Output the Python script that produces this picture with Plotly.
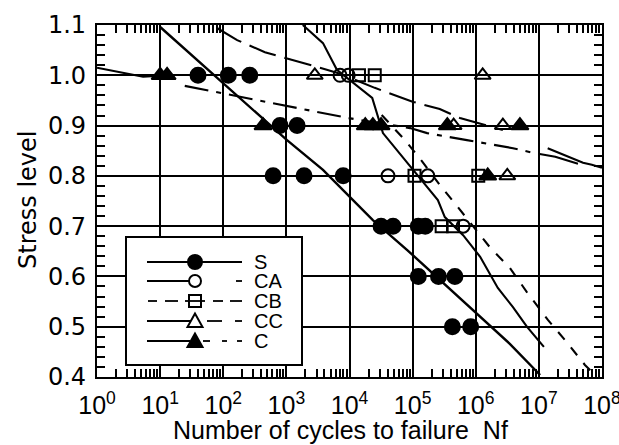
import plotly.graph_objects as go
import numpy as np

# ---------------- data (log10 of cycles, stress level) ----------------
S_logN   = [1.60, 2.08, 2.42, 2.90, 3.17, 2.79, 3.28, 3.90, 4.50, 4.69, 5.09, 5.20, 5.09, 5.41, 5.67, 5.63, 5.92]
S_stress = [1.0, 1.0, 1.0, 0.9, 0.9, 0.8, 0.8, 0.8, 0.7, 0.7, 0.7, 0.7, 0.6, 0.6, 0.6, 0.5, 0.5]

CA_logN   = [3.85, 3.98, 4.61, 5.24, 5.80]
CA_stress = [1.0, 1.0, 0.8, 0.8, 0.7]

CB_logN   = [4.15, 4.40, 5.03, 6.04, 5.46, 5.64]
CB_stress = [1.0, 1.0, 0.8, 0.8, 0.7, 0.7]

CC_logN   = [3.45, 6.11, 5.65, 6.43, 6.50]
CC_stress = [1.0, 1.0, 0.9, 0.9, 0.8]

C_logN   = [1.00, 1.11, 2.63, 4.25, 4.37, 4.50, 5.55, 6.70, 6.19]
C_stress = [1.0, 1.0, 0.9, 0.9, 0.9, 0.9, 0.9, 0.9, 0.8]

# curves (log10 N, stress)
S_curve_logN = [1.00, 2.00, 3.01, 3.58, 4.01, 4.37, 4.91, 5.47, 6.07, 6.54, 7.02]
S_curve_S    = [1.096, 0.985, 0.871, 0.812, 0.758, 0.712, 0.653, 0.589, 0.521, 0.466, 0.404]

CA_curve_logN = [3.26, 3.58, 3.80, 4.36, 4.53, 4.75, 4.99, 5.40, 5.51, 5.80, 6.07, 6.35, 6.59, 6.81, 7.08]
CA_curve_S    = [1.10, 1.064, 1.011, 0.955, 0.885, 0.851, 0.816, 0.752, 0.718, 0.682, 0.639, 0.577, 0.539, 0.500, 0.460]

CB_curve_logN = [4.51, 4.88, 5.13, 5.43, 5.69, 6.23, 6.54, 6.81, 7.14, 7.41, 7.73, 7.92]
CB_curve_S    = [0.921, 0.871, 0.832, 0.782, 0.742, 0.657, 0.617, 0.569, 0.514, 0.474, 0.424, 0.400]

CC_curve_logN = [1.90, 2.22, 2.66, 3.01, 3.64, 3.85, 4.40, 5.01, 5.43, 5.75, 6.43]
CC_curve_S    = [1.094, 1.070, 1.046, 1.034, 1.011, 1.003, 0.975, 0.947, 0.933, 0.915, 0.891]

C_left_logN = [0.00, 0.41, 0.73, 1.00]
C_left_S    = [1.015, 1.005, 0.997, 0.999]

C_curve_logN = [1.39, 1.95, 2.55, 3.33, 3.98, 4.96, 5.23, 5.86, 6.59, 6.97]
C_curve_S    = [0.979, 0.965, 0.951, 0.931, 0.915, 0.895, 0.885, 0.871, 0.855, 0.844]

R1_logN = [7.14, 7.70, 7.84, 8.00]
R1_S    = [0.855, 0.826, 0.822, 0.816]
R2_logN = [6.99, 7.26, 7.62]
R2_S    = [0.844, 0.838, 0.824]

x_tick_exp = [0, 1, 2, 3, 4, 5, 6, 7, 8]
y_ticks = [0.4, 0.5, 0.6, 0.7, 0.8, 0.9, 1.0, 1.1]
x_title = "Number of cycles to failure\u00a0\u00a0Nf"
y_title = "Stress level"

def N(lst):
    return [10 ** v for v in lst]

fig = go.Figure()

curve_specs = [
    (S_curve_logN, S_curve_S, "solid", 2.4),
    (CA_curve_logN, CA_curve_S, "solid", 2.1),
    (CB_curve_logN, CB_curve_S, "10px,10px", 2.1),
    (CC_curve_logN, CC_curve_S, "28px,9px", 2.1),
    (C_left_logN, C_left_S, "solid", 2.1),
    (C_curve_logN, C_curve_S, "24px,8px,5px,8px", 2.1),
    (R1_logN, R1_S, "solid", 2.1),
    (R2_logN, R2_S, "solid", 2.1),
]
for lx, ly, dash, w in curve_specs:
    fig.add_trace(go.Scatter(x=N(lx), y=ly, mode="lines",
                             line=dict(color="black", width=w, dash=dash),
                             hoverinfo="skip"))

marker_specs = [
    (S_logN, S_stress, "circle", 15, "black"),
    (CA_logN, CA_stress, "circle-open", 13, "black"),
    (CB_logN, CB_stress, "square-open", 12, "black"),
    (CC_logN, CC_stress, "triangle-up-open", 14, "black"),
    (C_logN, C_stress, "triangle-up", 15, "black"),
]
for lx, ly, sym, sz, col in marker_specs:
    fig.add_trace(go.Scatter(x=N(lx), y=ly, mode="markers",
                             marker=dict(symbol=sym, size=sz, color=col,
                                         line=dict(color="black", width=2)),
                             hoverinfo="skip"))

# ---------------- axes ----------------
x_minor_vals = [k * 10 ** e for e in range(8) for k in range(2, 10)]
y_minor_vals = [round(0.4 + 0.02 * i, 2) for i in range(36)]

fig.update_xaxes(
    type="log", range=[-0.0005, 8.0005],
    automargin=False, ticklabeloverflow="allow",
    tickmode="array",
    tickvals=[10 ** e for e in x_tick_exp],
    ticktext=["10<sup>%d</sup>" % e for e in x_tick_exp],
    tickfont=dict(family="Liberation Sans, Arial", size=25, color="black"),
    ticks="inside", ticklen=10, tickwidth=1.5, tickcolor="black",
    ticklabelstandoff=5,
    minor=dict(tickmode="array", tickvals=x_minor_vals,
               ticks="inside", ticklen=8, tickwidth=1.5, tickcolor="black", showgrid=False),
    showgrid=True, gridcolor="black", gridwidth=1.7,
    showline=True, linecolor="black", linewidth=2.2, mirror="ticks",
    zeroline=False,
)
fig.update_yaxes(
    range=[0.4, 1.1],
    automargin=False, ticklabeloverflow="allow",
    tickmode="array", tickvals=y_ticks,
    ticktext=["%.1f" % v for v in y_ticks],
    tickfont=dict(family="DejaVu Sans", size=24, color="black"),
    ticks="inside", ticklen=8, tickwidth=1.5, tickcolor="black",
    ticklabelstandoff=4,
    minor=dict(tickmode="array", tickvals=y_minor_vals,
               ticks="inside", ticklen=8, tickwidth=1.5, tickcolor="black", showgrid=False),
    showgrid=True, gridcolor="black", gridwidth=1.7,
    showline=True, linecolor="black", linewidth=2.2, mirror="ticks",
    zeroline=False,
)

# ---------------- manual legend and titles (layout decoration) ----------------
L, R, T, B = 97, 602, 25, 377
def fx(p):
    return (p - L) / (R - L)
def fy(p):
    return (B - p) / (B - T)

shapes = []
shapes.append(dict(type="rect", xref="paper", yref="paper",
                   x0=fx(126), x1=fx(302), y0=fy(365), y1=fy(237),
                   fillcolor="white", line=dict(color="black", width=2), layer="above"))

rows = [262, 281, 301, 321, 341]
labels = ["S", "CA", "CB", "CC", "C"]
mx = 195
def seg(x0, x1, y, dash="solid"):
    return dict(type="line", xref="paper", yref="paper", x0=fx(x0), x1=fx(x1),
                y0=fy(y), y1=fy(y), line=dict(color="black", width=1.8, dash=dash),
                layer="above")

# S
shapes.append(seg(147, 242, rows[0]))
# CA
shapes.append(seg(147, 190, rows[1]))
shapes.append(seg(236, 242, rows[1]))
# CB
shapes.append(seg(148, 157, rows[2])); shapes.append(seg(165, 178, rows[2]))
shapes.append(seg(185, 205, rows[2]))
shapes.append(seg(213, 223, rows[2])); shapes.append(seg(230, 242, rows[2]))
# CC
shapes.append(seg(147, 192, rows[3]))
shapes.append(seg(207, 222, rows[3])); shapes.append(seg(235, 242, rows[3]))
# C
shapes.append(seg(147, 190, rows[4]))
shapes.append(seg(203, 210, rows[4])); shapes.append(seg(222, 227, rows[4]))
shapes.append(seg(237, 242, rows[4]))

def circ(y, r, filled):
    return dict(type="circle", xref="paper", yref="paper",
                x0=fx(mx - r), x1=fx(mx + r), y0=fy(y + r), y1=fy(y - r),
                fillcolor="black" if filled else "rgba(0,0,0,0)",
                line=dict(color="black", width=2), layer="above")
shapes.append(circ(rows[0], 7, True))
shapes.append(circ(rows[1], 6, False))
shapes.append(dict(type="rect", xref="paper", yref="paper",
                   x0=fx(mx - 6), x1=fx(mx + 6), y0=fy(rows[2] + 6), y1=fy(rows[2] - 6),
                   fillcolor="rgba(0,0,0,0)", line=dict(color="black", width=2), layer="above"))
def tri(y, filled):
    pts = [(mx, y - 7.5), (mx - 7.5, y + 6), (mx + 7.5, y + 6)]
    path = "M %f,%f L %f,%f L %f,%f Z" % tuple(v for p in pts for v in (fx(p[0]), fy(p[1])))
    return dict(type="path", xref="paper", yref="paper", path=path,
                fillcolor="black" if filled else "white",
                line=dict(color="black", width=2), layer="above")
shapes.append(tri(rows[3], False))
shapes.append(tri(rows[4], True))

annotations = []
for lab, y in zip(labels, rows):
    annotations.append(dict(text=lab, xref="paper", yref="paper", x=fx(252), y=fy(y),
                            xanchor="left", yanchor="middle", showarrow=False,
                            font=dict(family="Liberation Sans, Arial", size=20, color="black")))
annotations.append(dict(text=x_title, xref="paper", yref="paper", x=fx(340), y=fy(430),
                        xanchor="center", yanchor="middle", showarrow=False,
                        font=dict(family="Liberation Sans, Arial", size=25, color="black")))
annotations.append(dict(text=y_title, xref="paper", yref="paper", x=fx(28), y=fy(200),
                        xanchor="center", yanchor="middle", showarrow=False, textangle=-90,
                        font=dict(family="DejaVu Sans", size=24, color="black")))

fig.update_layout(
    width=619, height=445,
    margin=dict(l=97, r=17, t=25, b=68),
    plot_bgcolor="white", paper_bgcolor="white",
    showlegend=False,
    shapes=shapes, annotations=annotations,
)

fig.write_html("out.html")
